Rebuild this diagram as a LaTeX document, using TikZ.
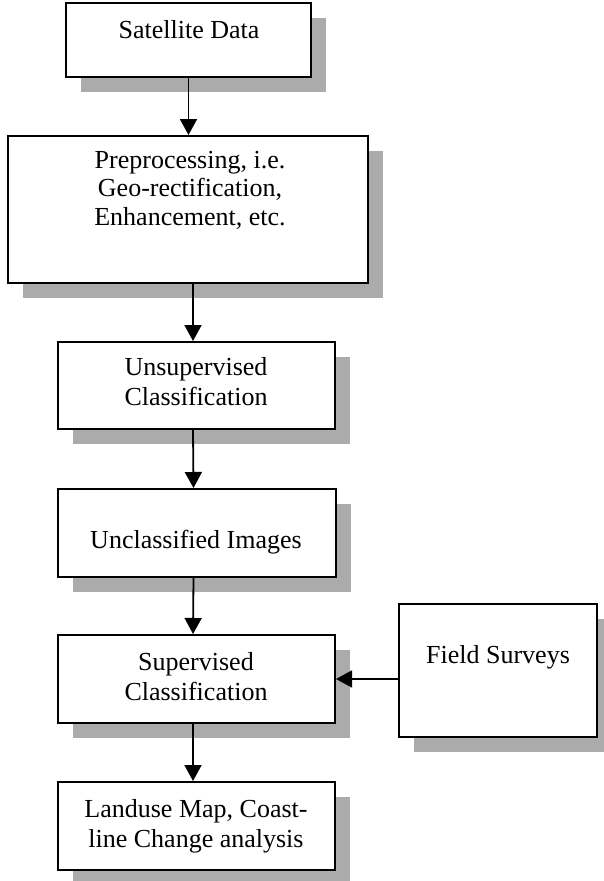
\documentclass[tikz,border=0pt]{standalone}
\usepackage{fontspec}
\setmainfont{Liberation Serif}
\usetikzlibrary{arrows.meta,shadows}
\begin{document}
\begin{tikzpicture}[x=1pt,y=-1pt,
  box/.style={draw, line width=2pt, fill=white, rectangle, inner sep=0pt,
    drop shadow={shadow xshift=15pt, shadow yshift=-15pt, fill=black!33, opacity=1}},
  txt/.style={font=\fontsize{26}{30}\selectfont, align=center, anchor=base, inner sep=0pt},
  arr/.style={line width=1.8pt, -{Triangle[length=16pt,width=17pt]}}]
\useasboundingbox (0,0) rectangle (604,881);
% boxes
\node[box, minimum width=245pt, minimum height=74pt] (b1) at (188.5,40) {};
\node[box, minimum width=360pt, minimum height=147pt] (b2) at (188,209.5) {};
\node[box, minimum width=277pt, minimum height=87pt] (b3) at (196.5,385.5) {};
\node[box, minimum width=278pt, minimum height=88pt] (b4) at (197,533) {};
\node[box, minimum width=277pt, minimum height=88pt] (b5) at (196.5,679) {};
\node[box, minimum width=198pt, minimum height=133pt] (fs) at (498,670.5) {};
\node[box, minimum width=277pt, minimum height=88pt] (b6) at (196.5,826) {};
% texts (base = baseline of last line)
\node[txt] (t1) at (189,38) {Satellite Data};
\node[txt, font=\fontsize{26}{28.5}\selectfont] (t2) at (190,225) {Preprocessing, i.e.\\Geo-rectification,\\Enhancement, etc.};
\node[txt] (t3) at (196,405) {Unsupervised\\Classification};
\node[txt] (t4) at (196,548) {Unclassified Images};
\node[txt] (t5) at (196,700) {Supervised\\Classification};
\node[txt] (tf) at (498,663) {Field Surveys};
\node[txt] (t6) at (196,847) {Landuse Map, Coast-\\line Change analysis};
% connectors
\draw[arr] (b1.south) -- (b1.south |- b2.north);
\draw[arr] ([xshift=-3.5pt]b3.north |- b2.south) -- ([xshift=-3.5pt]b3.north);
\draw[arr] ([xshift=-3.5pt]b3.south) -- ([xshift=-3.5pt]b4.north);
\draw[arr] ([xshift=-3.5pt]b4.south) -- ([xshift=-3.5pt]b5.north);
\draw[arr] ([xshift=-3.5pt]b5.south) -- ([xshift=-3.5pt]b6.north);
\draw[arr] (fs.west |- b5.east) -- (b5.east);
\end{tikzpicture}
\end{document}
